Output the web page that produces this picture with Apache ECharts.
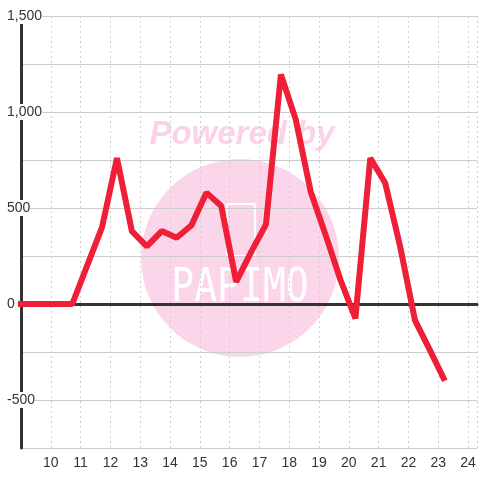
<!DOCTYPE html>
<html>
<head>
<meta charset="utf-8">
<script src="https://cdn.jsdelivr.net/npm/echarts@6/dist/echarts.min.js"></script>
<style>
  html, body { margin: 0; padding: 0; background: #ffffff; }
  #main { width: 480px; height: 480px; }
</style>
</head>
<body>
<div id="main"></div>
<script>
// values
var xValues = [8.7, 9.2, 9.7, 10.2, 10.7, 11.2, 11.7, 12.2, 12.7, 13.2, 13.7, 14.2, 14.7, 15.2, 15.7,
  16.2, 16.7, 17.2, 17.7, 18.2, 18.7, 19.2, 19.7, 20.2, 20.7, 21.2, 21.7, 22.2, 22.7, 23.2];
var yValues = [0, 0, 0, 0, 0, 200, 400, 760, 380, 300, 380, 345, 410, 580, 510,
  115, 270, 415, 1195, 960, 585, 360, 125, -75, 760, 630, 300, -85, -240, -400];
var yLabelValues = [1500, 1000, 500, 0, -500];

var chart = echarts.init(document.getElementById('main'));

var seriesData = [];
for (var i = 0; i < xValues.length; i++) {
  seriesData.push([xValues[i] + 0.02, yValues[i]]);
}

var option = {
  backgroundColor: '#ffffff',
  animation: false,
  // PAPIMO watermark behind the grid
  graphic: [
    {
      type: 'circle',
      shape: { cx: 240, cy: 258, r: 99 },
      style: { fill: '#fbd5ea' },
      z: -10
    },
    {
      type: 'text',
      x: 242,
      y: 135,
      style: {
        text: 'Powered by',
        fill: '#fbd3e9',
        font: 'italic bold 33px "Liberation Sans"',
        textAlign: 'center',
        textVerticalAlign: 'middle'
      },
      z: -10
    },
    {
      type: 'rect',
      shape: { x: 227, y: 204, width: 28, height: 52, r: 2 },
      style: { fill: 'none', stroke: '#ffffff', lineWidth: 2 },
      z: -9
    },
    {
      type: 'text',
      x: 240,
      y: 289,
      scaleY: 1.2,
      style: {
        text: 'PAPIMO',
        fill: '#ffffff',
        font: '38px "DejaVu Sans Mono"',
        textAlign: 'center',
        textVerticalAlign: 'middle'
      },
      z: -9
    }
  ],
  grid: {
    left: 21,
    right: 0,
    top: 16,
    bottom: 32,
    containLabel: false
  },
  xAxis: [
    {
      type: 'value',
      min: 9,
      max: 24.3,
      interval: 1,
      axisLine: { show: false, onZero: false },
      axisTick: { show: false },
      axisLabel: {
        color: '#333',
        fontFamily: 'Liberation Sans',
        fontSize: 14,
        margin: 8,
        formatter: function (v) {
          if (v === 9 || Math.round(v) !== v) return '';
          return String(v);
        }
      },
      splitLine: {
        show: true,
        lineStyle: { color: '#cfcfcf', type: [2, 3], width: 1 }
      }
    },
    {
      // dark zero line
      type: 'value',
      min: 9,
      max: 24.3,
      position: 'top',
      axisLine: { show: true, onZero: true, lineStyle: { color: '#333333', width: 3 } },
      axisTick: { show: false },
      axisLabel: { show: false },
      splitLine: { show: false }
    }
  ],
  yAxis: {
    type: 'value',
    min: -750,
    max: 1500,
    interval: 250,
    axisLine: { show: true, lineStyle: { color: '#333333', width: 3 } },
    axisTick: { show: false },
    axisLabel: {
      color: '#333',
      fontFamily: 'Liberation Sans',
      fontSize: 14,
      align: 'left',
      margin: 14,
      backgroundColor: '#ffffff',
      padding: [1, 0],
      formatter: function (v) {
        if (yLabelValues.indexOf(v) < 0) return '';
        return v.toLocaleString('en-US');
      }
    },
    splitLine: {
      show: true,
      lineStyle: { color: '#cccccc', type: 'solid', width: 1 }
    }
  },
  series: [
    {
      type: 'line',
      xAxisIndex: 0,
      data: seriesData,
      showSymbol: false,
      clip: true,
      lineStyle: { color: '#ee1f36', width: 6 },
      z: 5
    }
  ]
};

chart.setOption(option);
window.addEventListener('resize', function () {
  chart.resize();
});
</script>
</body>
</html>
